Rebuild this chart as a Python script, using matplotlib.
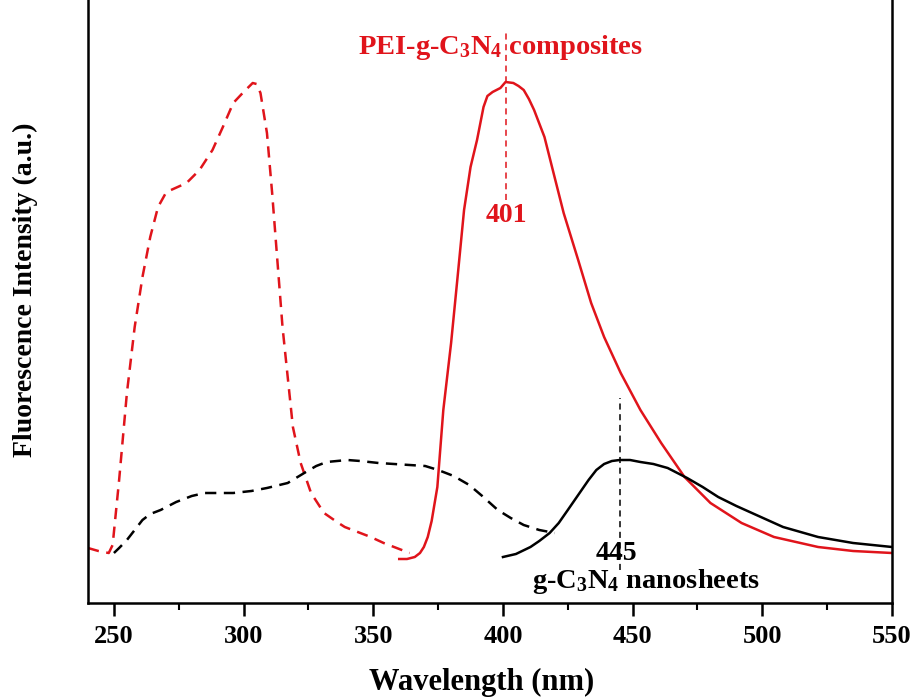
import matplotlib
matplotlib.use("Agg")
import matplotlib.pyplot as plt
from matplotlib.ticker import MultipleLocator

plt.rcParams["font.family"] = ["Liberation Serif", "DejaVu Serif"]
plt.rcParams["font.weight"] = "bold"
plt.rcParams["mathtext.default"] = "regular"

RED = "#e0141b"

# PEI-g-C3N4 excitation (dashed red)
ex_pei_nm = [240, 244, 248, 249.5, 252, 255, 258, 261, 264, 267, 270, 272, 278, 283,
             288, 292, 296, 300, 303.5, 305, 306.5, 309, 311, 313, 315, 317, 319, 322,
             326, 331, 336, 339, 344, 349, 354, 359, 364]
ex_pei_int = [55, 52, 50, 58, 123, 210, 276, 326, 366, 396, 410, 413, 420, 433,
              453, 476, 500, 511, 520, 519, 510, 470, 410, 343, 276, 226, 176, 140,
              110, 90, 81, 76, 71, 66, 60, 55, 50]

# g-C3N4 excitation (dashed black)
ex_cn_nm = [250, 252, 255, 258, 261, 264, 268, 274, 280, 285, 296, 303, 309, 317,
            324, 328, 332, 340, 345, 352, 364, 370, 375, 381, 387, 392, 398, 403,
            408, 414, 420]
ex_cn_int = [50, 55, 63, 73, 83, 89, 93, 101, 107, 110, 110, 112, 115, 120,
             131, 137, 141, 143, 142, 140, 138, 137, 133, 127, 118, 107, 93, 85,
             78, 73, 70]

# PEI-g-C3N4 emission (solid red)
em_pei_nm = [360, 363, 366, 368, 369.5, 371, 372.5, 374.7, 377, 380, 382.5, 385,
             387.5, 390, 392.5, 394, 396, 399, 401, 404, 406, 408, 410, 412, 416,
             419.5, 423.4, 429, 434, 439, 445.4, 453, 461, 470, 480, 492, 504.5,
             521.5, 535, 550]
em_pei_int = [44, 44, 46, 50, 56, 66, 82, 116, 193, 260, 326, 393,
              436, 463, 496, 507, 511, 515, 521, 520, 517, 513, 504, 493, 466,
              430, 390, 343, 300, 266, 230, 193, 160, 126, 100, 80, 66,
              56, 52, 50]

# g-C3N4 emission (solid black)
em_cn_nm = [400, 405, 410.6, 414, 418, 421.5, 425, 429, 433, 436, 439, 442, 445,
            449, 453, 458, 463.5, 471, 477, 483, 490, 496, 508, 521.5, 535, 550]
em_cn_int = [46, 49, 56, 62, 70, 80, 93, 108, 123, 133, 139, 142, 143,
             143, 141, 139, 135, 125, 116, 106, 97, 90, 76, 66, 60, 56]

fig = plt.figure(figsize=(9.12, 6.97), dpi=100)
ax = fig.add_axes([88 / 912, 94 / 697, (892 - 88) / 912, 603 / 697])

ax.plot(ex_pei_nm, ex_pei_int, color=RED, lw=1.8, ls=(0, (4.5, 3)))
ax.plot(ex_cn_nm, ex_cn_int, color="black", lw=1.8, ls=(0, (4.5, 3)))
ax.plot(em_pei_nm, em_pei_int, color=RED, lw=1.8)
ax.plot(em_cn_nm, em_cn_int, color="black", lw=1.8)

# peak markers
ax.plot([401, 401], [403, 573], color=RED, lw=1.1, ls=(0, (4, 3)))
ax.plot([445, 445], [33, 205], color="black", lw=1.1, ls=(0, (4, 3)))

ax.text(399.0, 556, "PEI-g-C$_3$N$_4$ composites", color=RED, fontsize=20.5,
        fontweight="bold", ha="center", va="center")
ax.text(401.2, 388, "401", color=RED, fontsize=20, fontweight="bold",
        ha="center", va="center")
ax.text(443.8, 50, "445", color="black", fontsize=20, fontweight="bold",
        ha="center", va="center")
ax.text(455.2, 21, "g-C$_3$N$_4$ nanosheets", color="black", fontsize=20.5,
        fontweight="bold", ha="center", va="center")

ax.set_xlim(240, 550)
ax.set_ylim(0, 603)
ax.spines["top"].set_visible(False)
for s in ("left", "right", "bottom"):
    ax.spines[s].set_linewidth(1.8)
ax.set_yticks([])
ax.xaxis.set_major_locator(MultipleLocator(50))
ax.xaxis.set_minor_locator(MultipleLocator(25))
ax.tick_params(axis="x", which="major", direction="out", length=9, width=1.8,
               labelsize=19, pad=7)
ax.tick_params(axis="x", which="minor", direction="out", length=5, width=1.5)
for lbl in ax.get_xticklabels():
    lbl.set_fontweight("bold")

ax.set_xlabel("Wavelength (nm)", fontsize=22, fontweight="bold")
ax.set_ylabel("Fluorescence Intensity (a.u.)", fontsize=20, fontweight="bold")
ax.xaxis.set_label_coords(0.489, -0.108)
ax.yaxis.set_label_coords(-0.062, 0.52)

fig.savefig("out.png", dpi=100)
